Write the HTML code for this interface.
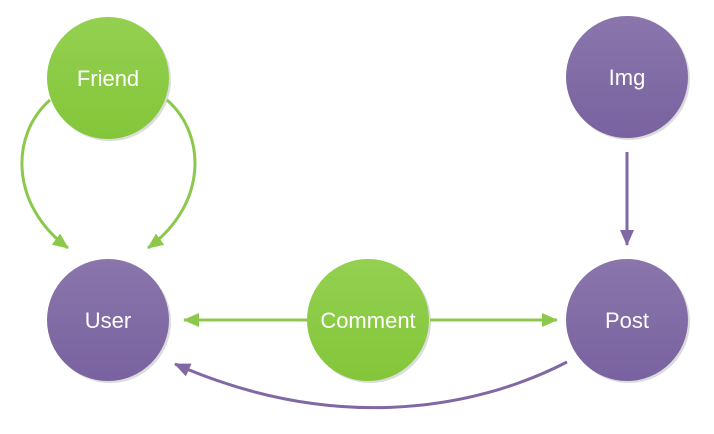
<!DOCTYPE html>
<html><head><meta charset="utf-8"><style>
html,body{margin:0;padding:0;background:#fff;width:714px;height:434px;overflow:hidden}
text{font-family:"Liberation Sans",sans-serif;font-size:22px;fill:#fff}
</style></head><body>
<svg width="714" height="434" viewBox="0 0 714 434" xmlns="http://www.w3.org/2000/svg">
<defs>
<linearGradient id="g" x1="0" y1="0" x2="0" y2="1"><stop offset="0" stop-color="#93d050"/><stop offset="1" stop-color="#84c63a"/></linearGradient>
<linearGradient id="p" x1="0" y1="0" x2="0" y2="1"><stop offset="0" stop-color="#8a76ab"/><stop offset="1" stop-color="#7962a0"/></linearGradient>
<marker id="ag" markerWidth="16" markerHeight="14" refX="15" refY="7" orient="auto" markerUnits="userSpaceOnUse" viewBox="0 0 16 14"><path d="M0,0L16,7L0,14z" fill="#8cc84b"/></marker>
<marker id="ap" markerWidth="16" markerHeight="14" refX="15" refY="7" orient="auto" markerUnits="userSpaceOnUse" viewBox="0 0 16 14"><path d="M0,0L16,7L0,14z" fill="#8068a5"/></marker>
</defs>
<g fill="#dcdcdc">
<circle cx="110" cy="80" r="61"/><circle cx="629" cy="79" r="61"/><circle cx="110" cy="322" r="61"/><circle cx="370" cy="322" r="61"/><circle cx="629" cy="322" r="61"/>
</g>
<g fill="none" stroke-width="3">
<path d="M50,100 C10,135 10,205 68,248" stroke="#8cc84b" marker-end="url(#ag)"/>
<path d="M167,100 C207,135 207,205 148,248" stroke="#8cc84b" marker-end="url(#ag)"/>
<path d="M307,320 L184,320" stroke="#8cc84b" marker-end="url(#ag)"/>
<path d="M430,320 L557,320" stroke="#8cc84b" marker-end="url(#ag)"/>
<path d="M627,152 L627,245" stroke="#8068a5" marker-end="url(#ap)"/>
<path d="M567,362 C470,412 330,432 175,364" stroke="#8068a5" marker-end="url(#ap)"/>
</g>
<circle cx="108" cy="78" r="61" fill="url(#g)"/>
<circle cx="627" cy="77" r="61" fill="url(#p)"/>
<circle cx="108" cy="320" r="61" fill="url(#p)"/>
<circle cx="368" cy="320" r="61" fill="url(#g)"/>
<circle cx="627" cy="320" r="61" fill="url(#p)"/>
<g text-anchor="middle">
<text x="108" y="86">Friend</text>
<text x="627" y="85">Img</text>
<text x="108" y="328">User</text>
<text x="368" y="328">Comment</text>
<text x="627" y="328">Post</text>
</g>
</svg>
</body></html>
